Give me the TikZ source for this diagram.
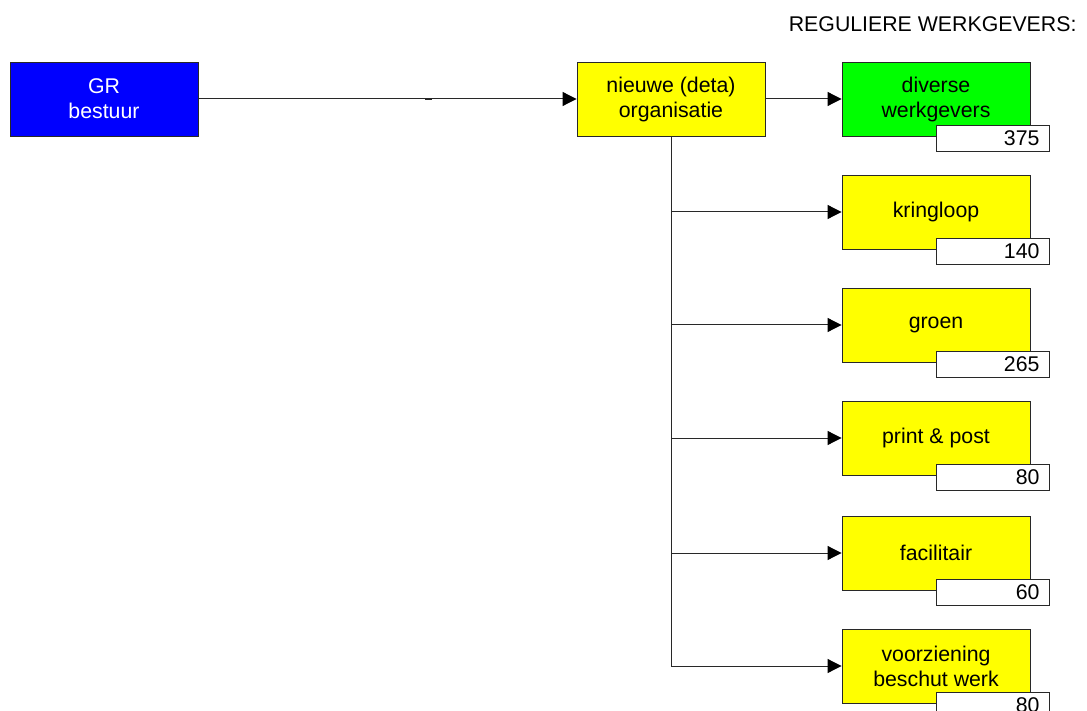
\documentclass[tikz,border=0pt]{standalone}
\usepackage{fontspec}
\setmainfont{Liberation Sans}
\usetikzlibrary{arrows.meta}
\definecolor{boxblue}{RGB}{0,0,255}
\definecolor{boxyellow}{RGB}{255,255,0}
\definecolor{boxgreen}{RGB}{0,255,0}
\definecolor{linegray}{RGB}{40,40,40}
\tikzset{
  lbl/.style={font=\fontsize{21.3}{25}\selectfont},
  unit/.style={lbl, draw=linegray, line width=0.9pt, minimum width=188pt, minimum height=74pt,
               inner sep=0pt, align=center},
  count/.style={lbl, draw=linegray, line width=0.9pt, fill=white, text width=93pt,
                align=right, inner xsep=10pt, inner ysep=0pt, minimum height=26pt,
                anchor=north west},
  link/.style={draw=linegray, line width=1pt},
  arr/.style={link, -{Triangle[length=14pt,width=14pt,color=black]}}
}
\begin{document}
\begin{tikzpicture}[x=1pt,y=-1pt]
\useasboundingbox (0,0) rectangle (1087,711);
\clip (0,0) rectangle (1087,711);

\node[lbl, anchor=east] (title) at (1080,24) {REGULIERE WERKGEVERS:};

\node[unit, fill=boxblue, text=white] (gr) at (104,99) {GR\\bestuur};
\node[unit, fill=boxyellow] (org) at (671,99) {nieuwe (deta)\\organisatie};

% right-hand column of employers
\node[unit, fill=boxgreen]  (div)  at (936,99)  {diverse\\werkgevers};
\node[unit, fill=boxyellow] (kring) at (936,212) {kringloop};
\node[unit, fill=boxyellow] (groen) at (936,325) {groen};
\node[unit, fill=boxyellow] (print) at (936,438) {print \& post};
\node[unit, fill=boxyellow] (facil) at (936,553) {facilitair};
\node[unit, fill=boxyellow] (voorz) at (936,666) {voorziening\\beschut werk};

% head counts overlapping the lower right corner of each box
\node[count] (ndiv)   at (936,125) {375};
\node[count] (nkring) at (936,238) {140};
\node[count] (ngroen) at (936,351) {265};
\node[count] (nprint) at (936,464) {80};
\node[count] (nfacil) at (936,579) {60};
\node[count] (nvoorz) at (936,692) {80};

% connectors
\draw[arr] (gr.east) -- (org.west);
\draw[line width=2.2pt, linegray] (425,99) -- (432,99);
\draw[arr] (org.east) -- (div.west);

\coordinate (trunk) at (org.south);
\coordinate (t1) at (trunk |- kring.west);
\coordinate (t2) at (trunk |- groen.west);
\coordinate (t3) at (trunk |- print.west);
\coordinate (t4) at (trunk |- facil.west);
\coordinate (t5) at (trunk |- voorz.west);
\draw[link] (trunk) -- (t5);
\draw[arr] (t1) -- (kring.west);
\draw[arr] (t2) -- (groen.west);
\draw[arr] (t3) -- (print.west);
\draw[arr] (t4) -- (facil.west);
\draw[arr] (t5) -- (voorz.west);
\end{tikzpicture}
\end{document}
